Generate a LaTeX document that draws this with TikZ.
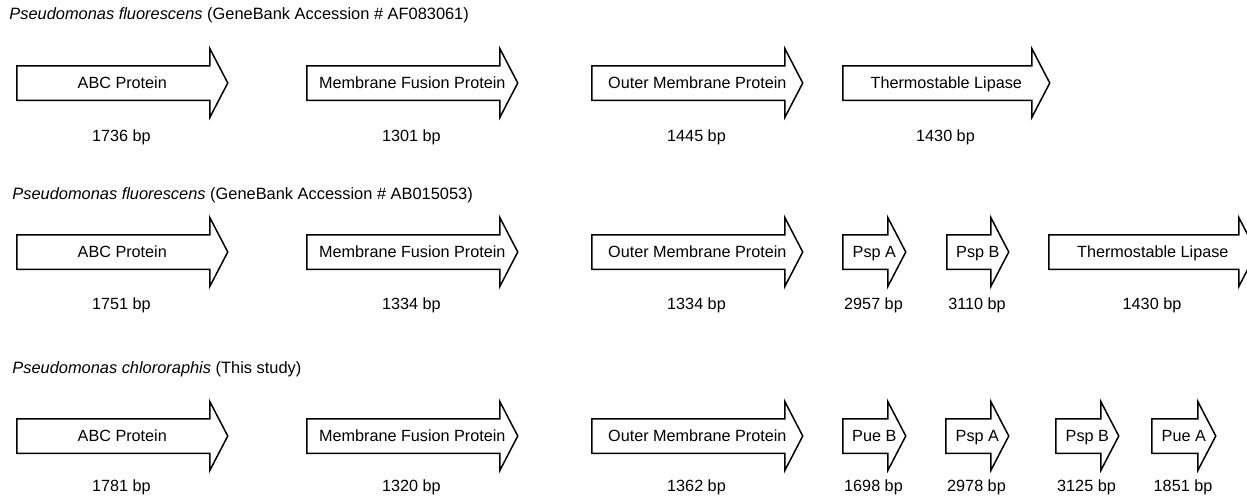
\documentclass[tikz,border=0pt]{standalone}
\usepackage{fontspec}
\setmainfont{Liberation Sans}
\usetikzlibrary{shapes.arrows, calc}

\begin{document}
\begin{tikzpicture}[
  x=0.5pt, y=-0.5pt,
  gene/.style={single arrow, draw, line width=0.75pt, anchor=tail, minimum height=#1pt, minimum width=0pt,
    single arrow tip angle=125, single arrow head extend=8.5pt, inner xsep=0pt, inner ysep=5.4pt,
    text height=5.7pt, text depth=0pt},
  genetext/.style={inner sep=0pt, text height=5.7pt, text depth=0pt, font=\fontsize{8.1}{9}\selectfont},
  bplabel/.style={font=\fontsize{8.1}{9}\selectfont, inner sep=0pt},
  species/.style={anchor=west, inner sep=0pt, font=\fontsize{8.2}{10}\selectfont}
]
\useasboundingbox (0,0) rectangle (1247,500);

% Species headings
\node[species] (t1) at (9,15) {\textit{Pseudomonas fluorescens} (GeneBank Accession \# AF083061)};
\node[species] (t2) at (12,195) {\textit{Pseudomonas fluorescens} (GeneBank Accession \# AB015053)};
\node[species] (t3) at (12,369) {\textit{Pseudomonas chlororaphis} (This study)};

% Row 1 (tail x / length in pt / name / size)
\foreach \nm/\xa/\len/\txt/\bp in {abc/16/105.5/ABC Protein/1736, mfp/306/105.5/Membrane Fusion Protein/1301,
    omp/591/105.5/Outer Membrane Protein/1445, lip/842/103.5/Thermostable Lipase/1430}{
  \node[gene=\len] (g1\nm) at (\xa,83) {};
  \node[genetext] (n1\nm) at ($(g1\nm.tail)!.5!(g1\nm.tip)$) {\txt};
  \node[bplabel] (b1\nm) at ({\xa+\len},137) {\bp\ bp};
}

% Row 2
\foreach \nm/\xa/\len/\txt/\bp in {abc/16/105.5/ABC Protein/1751, mfp/306/105.5/Membrane Fusion Protein/1334,
    omp/591/105.5/Outer Membrane Protein/1334, pspa/842/31.5/Psp A/2957, pspb/946/31/Psp B/3110,
    lip/1048/104/Thermostable Lipase/1430}{
  \node[gene=\len] (g2\nm) at (\xa,252) {};
  \node[genetext] (n2\nm) at ($(g2\nm.tail)!.5!(g2\nm.tip)$) {\txt};
  \node[bplabel] (b2\nm) at ({\xa+\len},305) {\bp\ bp};
}

% Row 3
\foreach \nm/\xa/\len/\txt/\bp in {abc/16/105.5/ABC Protein/1781, mfp/306/105.5/Membrane Fusion Protein/1320,
    omp/591/105.5/Outer Membrane Protein/1362, pueb/842/31.5/Pue B/1698, pspa/945/31.5/Psp A/2978,
    pspb/1055/31.5/Psp B/3125, puea/1151/32/Pue A/1851}{
  \node[gene=\len] (g3\nm) at (\xa,436) {};
  \node[genetext] (n3\nm) at ($(g3\nm.tail)!.5!(g3\nm.tip)$) {\txt};
  \node[bplabel] (b3\nm) at ({\xa+\len},487) {\bp\ bp};
}
\end{tikzpicture}
\end{document}
